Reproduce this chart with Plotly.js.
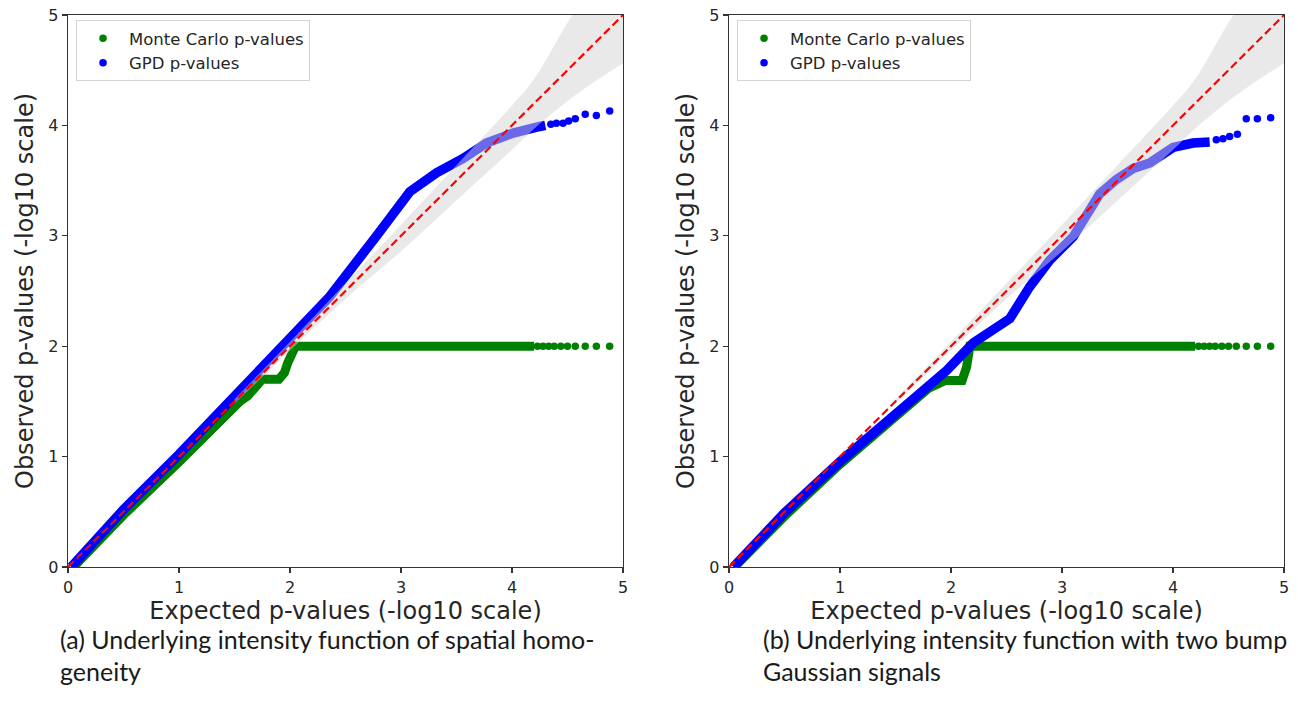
<!DOCTYPE html>
<html>
<head>
<meta charset="utf-8">
<script src="https://cdn.plot.ly/plotly-3.0.1.min.js"></script>
<style>
html,body{margin:0;padding:0;background:#fff;}
#chart{width:1298px;height:705px;}
</style>
</head>
<body>
<div id="chart"></div>
<script>
// ---------- data ----------
// (a) spatial homogeneity
const aMcX  = [0.05, 0.5, 1.0, 1.3, 1.55, 1.62, 1.70, 1.75, 1.90, 1.95, 1.98, 2.03, 2.05, 4.20];
const aMcY  = [0.00, 0.47, 0.95, 1.26, 1.50, 1.55, 1.65, 1.70, 1.70, 1.76, 1.85, 1.97, 2.00, 2.00];
const aGpdX = [0.03, 0.5, 1.0, 1.5, 2.0, 2.35, 2.78, 3.08, 3.32, 3.56, 3.77, 4.01, 4.25, 4.30];
const aGpdY = [0.00, 0.52, 1.02, 1.54, 2.08, 2.44, 3.00, 3.40, 3.57, 3.70, 3.84, 3.93, 3.99, 4.00];
const aMcTailX  = [4.23, 4.28, 4.33, 4.38, 4.44, 4.50, 4.57, 4.66, 4.76, 4.88];
const aMcTailY  = [2.00, 2.00, 2.00, 2.00, 2.00, 2.00, 2.00, 2.00, 2.00, 2.00];
const aGpdTailX = [4.35, 4.40, 4.46, 4.51, 4.57, 4.66, 4.76, 4.88];
const aGpdTailY = [4.01, 4.02, 4.02, 4.04, 4.06, 4.10, 4.09, 4.13];

// (b) two bump Gaussian signals
const bMcX  = [0.05, 0.5, 1.0, 1.5, 1.8, 1.95, 2.10, 2.14, 2.17, 4.20];
const bMcY  = [0.00, 0.46, 0.93, 1.37, 1.62, 1.69, 1.69, 1.81, 2.00, 2.00];
const bGpdX = [0.04, 0.5, 1.0, 1.51, 1.96, 2.20, 2.53, 2.71, 2.89, 3.10, 3.24, 3.34, 3.49, 3.64, 3.79, 3.88, 4.00, 4.18, 4.33];
const bGpdY = [0.00, 0.49, 0.955, 1.39, 1.78, 2.03, 2.25, 2.54, 2.78, 2.99, 3.20, 3.38, 3.51, 3.61, 3.66, 3.73, 3.80, 3.84, 3.85];
const bMcTailX  = [4.23, 4.28, 4.33, 4.38, 4.44, 4.50, 4.57, 4.66, 4.76, 4.88];
const bMcTailY  = [2.00, 2.00, 2.00, 2.00, 2.00, 2.00, 2.00, 2.00, 2.00, 2.00];
const bGpdTailX = [4.39, 4.45, 4.51, 4.58, 4.66, 4.76, 4.88];
const bGpdTailY = [3.87, 3.88, 3.90, 3.92, 4.06, 4.06, 4.07];

// confidence band and reference diagonal (shared)
const bandX     = [1.5, 2.0, 2.5, 3.0, 3.5, 4.0, 4.2, 4.5, 4.75, 5.0];
const bandUpper = [1.52, 2.04, 2.57, 3.10, 3.64, 4.18, 4.42, 4.93, 5.30, 5.65];
const bandLower = [1.48, 1.96, 2.43, 2.86, 3.32, 3.78, 3.97, 4.22, 4.40, 4.56];
const diagX = [0, 5];
const diagY = [0, 5];

const tickVals = [0, 1, 2, 3, 4, 5];
const tickText = ['0', '1', '2', '3', '4', '5'];
const legendNames = ['Monte Carlo p-values', 'GPD p-values'];
const xTitle = 'Expected p-values (-log10 scale)';
const yTitle = 'Observed p-values (-log10 scale)';
const captions = [
  ['(a) Underlying intensity function of spatial homo-', 'geneity'],
  ['(b) Underlying intensity function with two bump', 'Gaussian signals']
];

// ---------- build ----------
const GREEN = '#008000', BLUE = '#0000ff';
function panel(xa, ya, leg, mcX, mcY, mcTX, mcTY, gX, gY, gTX, gTY) {
  return [
    {x: mcX, y: mcY, xaxis: xa, yaxis: ya, mode: 'lines', line: {color: GREEN, width: 9}, showlegend: false, hoverinfo: 'skip'},
    {x: mcTX, y: mcTY, xaxis: xa, yaxis: ya, mode: 'markers', marker: {color: GREEN, size: 7.5}, name: legendNames[0], legend: leg, legendgroup: leg + 'mc', showlegend: true},
    {x: gX, y: gY, xaxis: xa, yaxis: ya, mode: 'lines', line: {color: BLUE, width: 9.5}, showlegend: false, hoverinfo: 'skip'},
    {x: gTX, y: gTY, xaxis: xa, yaxis: ya, mode: 'markers', marker: {color: BLUE, size: 7.5}, name: legendNames[1], legend: leg, legendgroup: leg + 'gpd', showlegend: true},
    {x: bandX, y: bandLower, xaxis: xa, yaxis: ya, mode: 'lines', line: {width: 0, color: 'rgba(0,0,0,0)', shape: 'spline'}, showlegend: false, hoverinfo: 'skip'},
    {x: bandX, y: bandUpper, xaxis: xa, yaxis: ya, mode: 'lines', line: {width: 0, color: 'rgba(0,0,0,0)', shape: 'spline'}, fill: 'tonexty', fillcolor: 'rgba(211,211,211,0.5)', showlegend: false, hoverinfo: 'skip'},
    {x: diagX, y: diagY, xaxis: xa, yaxis: ya, mode: 'lines', line: {color: '#ff0000', width: 2.2, dash: '8px,4px'}, showlegend: false, hoverinfo: 'skip'}
  ];
}

const data = [].concat(
  panel('x', 'y', 'legend', aMcX, aMcY, aMcTailX, aMcTailY, aGpdX, aGpdY, aGpdTailX, aGpdTailY),
  panel('x2', 'y2', 'legend2', bMcX, bMcY, bMcTailX, bMcTailY, bGpdX, bGpdY, bGpdTailX, bGpdTailY)
);

const tickFont = {family: 'DejaVu Sans', size: 16, color: '#262626'};
const titleFont = {family: 'DejaVu Sans', size: 24, color: '#262626'};
function xaxis(domain, anchor) {
  return {domain: domain, anchor: anchor, range: [0, 5], tickvals: tickVals, ticktext: tickText,
    ticks: 'outside', ticklen: 5, tickwidth: 1.2, tickcolor: '#333', showline: true, linecolor: '#333', linewidth: 1.3,
    mirror: true, showgrid: false, zeroline: false, tickfont: tickFont, fixedrange: true,
    title: {text: xTitle, font: titleFont, standoff: 6}};
}
function yaxis(anchor) {
  return {domain: [0, 1], anchor: anchor, range: [0, 5], tickvals: tickVals, ticktext: tickText,
    ticks: 'outside', ticklen: 5, tickwidth: 1.2, tickcolor: '#333', showline: true, linecolor: '#333', linewidth: 1.3,
    mirror: true, showgrid: false, zeroline: false, tickfont: tickFont, fixedrange: true,
    title: {text: yTitle, font: titleFont, standoff: 8}};
}
const legendBase = {
  xanchor: 'left', yanchor: 'top', bgcolor: 'rgba(255,255,255,0.85)', bordercolor: '#d4d4d4', borderwidth: 1,
  font: {family: 'DejaVu Sans', size: 16.5, color: '#262626'}, itemwidth: 42, tracegroupgap: 0, traceorder: 'grouped'
};
const capFont = {family: 'Lato', size: 25, color: '#1a1a1a'};
const annotations = [];
const capX = [-0.0082, 0.5699];
captions.forEach((lines, i) => {
  lines.forEach((t, j) => {
    annotations.push({text: t, xref: 'paper', yref: 'paper', x: capX[i], y: [-0.13, -0.188][j],
      xanchor: 'left', yanchor: 'middle', showarrow: false, font: capFont, align: 'left'});
  });
});

const layout = {
  width: 1298, height: 705,
  margin: {l: 68, r: 14, t: 15, b: 138},
  paper_bgcolor: '#fff', plot_bgcolor: '#fff',
  xaxis: xaxis([0, 0.45641], 'y'),
  yaxis: yaxis('x'),
  xaxis2: xaxis([0.54359, 1], 'y2'),
  yaxis2: yaxis('x2'),
  legend: Object.assign({x: 0.0066, y: 0.991}, legendBase),
  legend2: Object.assign({x: 0.5502, y: 0.991}, legendBase),
  annotations: annotations,
  showlegend: true
};

Plotly.newPlot('chart', data, layout, {displayModeBar: false, staticPlot: true});
</script>
</body>
</html>
